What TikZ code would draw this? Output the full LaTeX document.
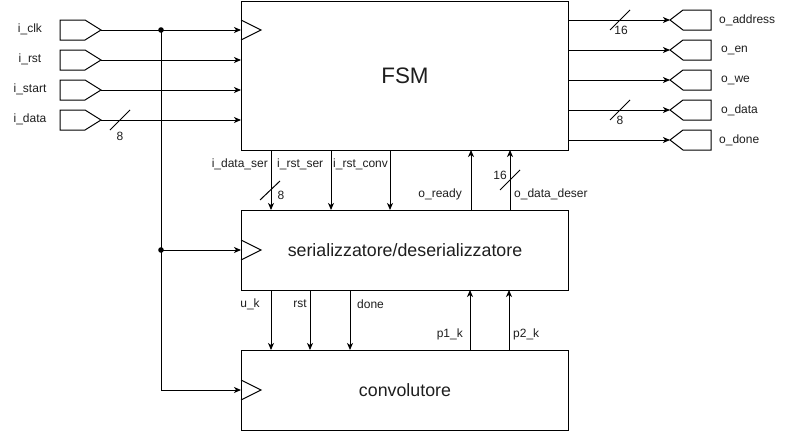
\documentclass[tikz,border=0pt]{standalone}
\usepackage{fontspec}
\setmainfont{Liberation Sans}
\usetikzlibrary{arrows.meta}
\definecolor{txt}{RGB}{30,30,30}
\begin{document}
\begin{tikzpicture}[x=1pt,y=-1pt,
  box/.style={draw, line width=1pt, inner sep=0pt, text=txt},
  arr/.style={line width=1pt, -{Stealth[length=7pt,width=6pt,inset=2pt]}},
  wire/.style={line width=1pt},
  lbl/.style={font=\fontsize{12}{14}\selectfont, inner sep=0pt, text=txt},
  portshape/.style={line width=1pt, line join=miter},
  clk/.style={line width=1pt}]
\useasboundingbox (0,0) rectangle (791,431);

% blocks
\node[box, anchor=north west, minimum width=327pt, minimum height=149pt, font=\fontsize{22.4}{26}\selectfont] (fsm) at (241,1) {FSM};
\node[box, anchor=north west, minimum width=327pt, minimum height=80pt, font=\fontsize{17.8}{21}\selectfont] (ser) at (241,210) {serializzatore/deserializzatore};
\node[box, anchor=north west, minimum width=327pt, minimum height=80pt, font=\fontsize{17.8}{21}\selectfont] (conv) at (241,350) {convolutore};

% clock triangles
\coordinate (ckf) at (241,30);
\coordinate (cks) at (241,250);
\coordinate (ckc) at (241,390);
\foreach \c in {ckf,cks,ckc}{
  \draw[clk] ([yshift=10pt]\c) -- ([xshift=20pt]\c) -- ([yshift=-10pt]\c);
}

% input ports (tip coordinates)
\coordinate (pclk) at (101,30);
\coordinate (prst) at (101,60);
\coordinate (pstart) at (101,90);
\coordinate (pdata) at (101,120);
\foreach \p in {pclk,prst,pstart,pdata}{
  \draw[portshape] (\p) -- ++(-16,-10) -- ++(-25,0) -- ++(0,20) -- ++(25,0) -- cycle;
}
\node[lbl] (lclk) at (30,29) {i\_clk};
\node[lbl] (lrst) at (30,59) {i\_rst};
\node[lbl] (lstart) at (30,89) {i\_start};
\node[lbl] (ldata) at (30,119) {i\_data};

\coordinate (j1) at (161,30);
\coordinate (j2) at (161,250);
\draw[arr] (pclk) -- (ckf);
\draw[arr] (prst) -- (prst -| fsm.west);
\draw[arr] (pstart) -- (pstart -| fsm.west);
\draw[arr] (pdata) -- (pdata -| fsm.west);
\draw[wire] (j1) -- (j2);
\draw[arr] (j2) -- (cks);
\draw[arr] (j2) |- (ckc);
\fill (j1) circle (2.8pt);
\fill (j2) circle (2.8pt);
\draw[wire] (110,130) -- (130,110);
\node[lbl] (n8a) at (120,136) {8};

% output ports (tip coordinates)
\coordinate (oaddr) at (670,20);
\coordinate (oen) at (670,50);
\coordinate (owe) at (670,80);
\coordinate (odata) at (670,110);
\coordinate (odone) at (670,140);
\foreach \p in {oaddr,oen,owe,odata,odone}{
  \draw[portshape] (\p) -- ++(13,-10) -- ++(28,0) -- ++(0,20) -- ++(-28,0) -- cycle;
}
\draw[arr] (oaddr -| fsm.east) -- (oaddr);
\draw[arr] (oen -| fsm.east) -- (oen);
\draw[arr] (owe -| fsm.east) -- (owe);
\draw[arr] (odata -| fsm.east) -- (odata);
\draw[arr] (odone -| fsm.east) -- (odone);
\node[lbl, anchor=west] (laddr) at (719,20) {o\_address};
\node[lbl, anchor=west] (len) at (721,50) {o\_en};
\node[lbl, anchor=west] (lwe) at (721,80) {o\_we};
\node[lbl, anchor=west] (ldat) at (721,110) {o\_data};
\node[lbl, anchor=west] (ldone) at (719,140) {o\_done};
\draw[wire] (610,30) -- (630,10);
\node[lbl] (n16a) at (621,30) {16};
\draw[wire] (610,120) -- (630,100);
\node[lbl] (n8b) at (620,120) {8};

% FSM <-> serializer
\draw[arr] (271,150) -- (271,210);
\draw[arr] (331,150) -- (331,210);
\draw[arr] (390,150) -- (390,210);
\draw[arr] (471,210) -- (471,150);
\draw[arr] (510,210) -- (510,150);
\node[lbl, anchor=east] (lids) at (268,164) {i\_data\_ser};
\node[lbl, anchor=west] (lirs) at (277,164) {i\_rst\_ser};
\node[lbl, anchor=west] (lirc) at (333,164) {i\_rst\_conv};
\node[lbl, anchor=east] (lrdy) at (462,194) {o\_ready};
\node[lbl, anchor=west] (lodd) at (514,194) {o\_data\_deser};
\draw[wire] (260,200) -- (280,181);
\node[lbl] (n8c) at (281,195) {8};
\draw[wire] (500,190) -- (520,170);
\node[lbl] (n16b) at (500,175) {16};

% serializer <-> convolutore
\draw[arr] (271,290) -- (271,350);
\draw[arr] (310,290) -- (310,350);
\draw[arr] (350,290) -- (350,350);
\draw[arr] (470,350) -- (470,290);
\draw[arr] (509,350) -- (509,290);
\node[lbl] (luk) at (250,304) {u\_k};
\node[lbl, anchor=east] (lrst2) at (307,304) {rst};
\node[lbl, anchor=west] (ldone2) at (357,304) {done};
\node[lbl, anchor=east] (lp1) at (463,334) {p1\_k};
\node[lbl, anchor=west] (lp2) at (513,334) {p2\_k};
\end{tikzpicture}
\end{document}
